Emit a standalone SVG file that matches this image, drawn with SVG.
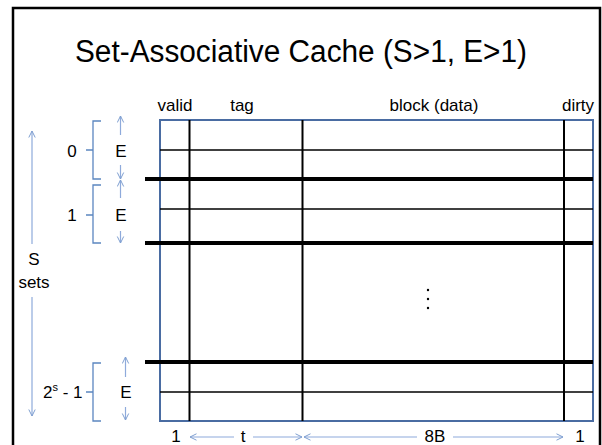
<svg xmlns="http://www.w3.org/2000/svg" width="602" height="445" viewBox="0 0 602 445">
  <defs>
    <marker id="open-head" markerUnits="userSpaceOnUse" markerWidth="10" markerHeight="10" refX="7" refY="4" orient="auto">
      <path d="M0.5,0.8 L7,4 L0.5,7.2" fill="none" stroke="#7f9fd0" stroke-width="1"/>
    </marker>
  </defs>
  <style>
    text { font-family: "Liberation Sans", Arial, sans-serif; fill: #000; }
    .lbl { font-size: 17px; text-anchor: middle; }
    .frame { fill: none; stroke: #000; stroke-width: 2.5; }
    .outer { fill: none; stroke: #4a6ca2; stroke-width: 2; }
    .col { stroke: #000; stroke-width: 2; }
    .line { stroke: #000; stroke-width: 1.3; }
    .set { stroke: #000; stroke-width: 4; }
    .brace { fill: none; stroke: #5b86c0; stroke-width: 1.3; }
    .dim { stroke: #8eaadb; stroke-width: 1.2; marker-end: url(#open-head); }
  </style>

  <rect class="frame" x="13" y="8" width="587" height="470"/>

  <text x="301" y="62" font-size="31" text-anchor="middle" textLength="452" lengthAdjust="spacingAndGlyphs">Set-Associative Cache (S&gt;1, E&gt;1)</text>

  <!-- column headings -->
  <g id="headings">
    <text class="lbl" x="175" y="111">valid</text>
    <text class="lbl" x="242" y="111">tag</text>
    <text class="lbl" x="434" y="111">block (data)</text>
    <text class="lbl" x="578" y="111">dirty</text>
  </g>

  <!-- cache lines grid -->
  <g id="cache-grid">
    <rect class="outer" x="160" y="120" width="433" height="301"/>
    <line class="col" x1="189.5" y1="120" x2="189.5" y2="421"/>
    <line class="col" x1="302.5" y1="120" x2="302.5" y2="421"/>
    <line class="col" x1="564" y1="120" x2="564" y2="421"/>
    <line class="line" x1="160" y1="150" x2="593" y2="150"/>
    <line class="line" x1="160" y1="209" x2="593" y2="209"/>
    <line class="line" x1="160" y1="392" x2="593" y2="392"/>
    <line class="set" x1="145" y1="179" x2="593" y2="179"/>
    <line class="set" x1="145" y1="243" x2="593" y2="243"/>
    <line class="set" x1="145" y1="362" x2="593" y2="362"/>
    <circle cx="428" cy="290" r="1.2"/>
    <circle cx="428" cy="299" r="1.2"/>
    <circle cx="428" cy="308" r="1.2"/>
  </g>

  <!-- set 0 -->
  <g id="set-0">
    <text class="lbl" x="72" y="157">0</text>
    <path class="brace" d="M101,121 H93 V179 H101 M86,150 H93"/>
    <text class="lbl" x="121" y="157">E</text>
  </g>

  <!-- set 1 -->
  <g id="set-1">
    <text class="lbl" x="72" y="221">1</text>
    <path class="brace" d="M101,185 H93 V243 H101 M86,215 H93"/>
    <text class="lbl" x="121" y="221">E</text>
  </g>

  <!-- last set -->
  <g id="set-last">
    <text x="43" y="398" font-size="17">2<tspan font-size="11" dy="-7">s</tspan><tspan dy="7"> - 1</tspan></text>
    <path class="brace" d="M101,363 H93 V421 H101 M86,392 H93"/>
    <text class="lbl" x="126" y="398">E</text>
  </g>

  <!-- S sets label -->
  <g id="sets-label">
    <text class="lbl" x="34" y="265">S</text>
    <text class="lbl" x="34" y="288">sets</text>
  </g>

  <!-- bottom widths -->
  <g id="widths">
    <text class="lbl" x="176" y="442">1</text>
    <text class="lbl" x="243" y="442">t</text>
    <text class="lbl" x="435" y="442">8B</text>
    <text class="lbl" x="580" y="442">1</text>
  </g>

  <!-- dimension arrows -->
  <g id="connectors">
    <line class="dim" x1="32" y1="244" x2="32" y2="131"/>
    <line class="dim" x1="32" y1="297" x2="32" y2="416"/>
    <line class="dim" x1="120.5" y1="135" x2="120.5" y2="116"/>
    <line class="dim" x1="120.5" y1="165" x2="120.5" y2="179"/>
    <line class="dim" x1="120.5" y1="198" x2="120.5" y2="180"/>
    <line class="dim" x1="120.5" y1="231" x2="120.5" y2="243"/>
    <line class="dim" x1="125.5" y1="377" x2="125.5" y2="357"/>
    <line class="dim" x1="125.5" y1="407" x2="125.5" y2="420"/>
    <line class="dim" x1="234" y1="437" x2="190" y2="437"/>
    <line class="dim" x1="253" y1="437" x2="302" y2="437"/>
    <line class="dim" x1="417" y1="437" x2="304" y2="437"/>
    <line class="dim" x1="453" y1="437" x2="563" y2="437"/>
  </g>
</svg>
